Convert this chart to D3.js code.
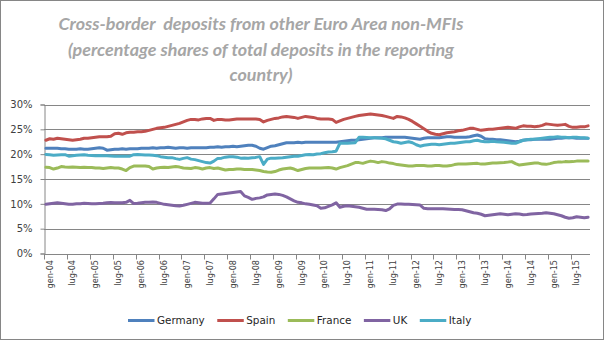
<!DOCTYPE html>
<html>
<head>
<meta charset="utf-8">
<script src="https://cdn.jsdelivr.net/npm/d3@7"></script>
<style>
  html, body { margin: 0; padding: 0; background: #fff; }
  svg { display: block; }
</style>
</head>
<body>
<svg id="chart" width="605" height="341"></svg>
<script>
// ---------------- DATA ----------------
const monthNames = ["gen","feb","mar","apr","mag","giu","lug","ago","set","ott","nov","dic"];
const years = ["04","05","06","07","08","09","10","11","12","13","14","15"];
const lastMonthCount = 11; // series end in nov-15

const tickLabels = ["gen-04","lug-04","gen-05","lug-05","gen-06","lug-06","gen-07","lug-07",
  "gen-08","lug-08","gen-09","lug-09","gen-10","lug-10","gen-11","lug-11",
  "gen-12","lug-12","gen-13","lug-13","gen-14","lug-14","gen-15","lug-15"];

const yTicks = [0, 5, 10, 15, 20, 25, 30];

const titleLines = [
  "Cross-border  deposits from other Euro Area non-MFIs",
  "(percentage shares of total deposits in the reporting",
  "country)"
];

const seriesNames = ["Germany", "Spain", "France", "UK", "Italy"];

const germany = [
  21.2,21.2,21.2,21.2,21.1,21.1,21.0,21.0,21.0,21.1,21.0,21.0,
  21.1,21.2,21.3,21.2,20.8,20.9,21.0,21.0,21.1,21.0,21.1,21.1,
  21.1,21.2,21.2,21.2,21.3,21.2,21.3,21.3,21.4,21.3,21.2,21.3,
  21.3,21.2,21.3,21.3,21.3,21.3,21.3,21.4,21.4,21.5,21.4,21.5,
  21.5,21.6,21.5,21.6,21.7,21.8,21.8,21.6,21.2,21.0,21.3,21.6,
  21.7,21.9,22.1,22.3,22.3,22.3,22.4,22.3,22.4,22.4,22.4,22.4,
  22.4,22.4,22.4,22.4,22.4,22.5,22.6,22.7,22.8,22.8,22.9,23.0,
  23.1,23.2,23.3,23.3,23.3,23.4,23.4,23.4,23.4,23.4,23.4,23.3,
  23.2,23.1,23.0,23.2,23.3,23.3,23.3,23.3,23.4,23.5,23.5,23.4,
  23.4,23.4,23.4,23.5,23.7,23.85,23.6,23.1,23.0,23.0,22.9,22.9,
  22.8,22.7,22.6,22.5,22.6,22.8,22.9,22.9,23.0,23.0,23.0,23.0,
  23.0,23.1,23.2,23.2,23.3,23.3,23.3,23.2,23.2,23.2,23.2
];
const spain = [
  22.8,23.1,23.0,23.2,23.1,23.0,22.9,22.8,22.9,23.0,23.2,23.2,
  23.3,23.4,23.5,23.5,23.5,23.6,24.1,24.2,24.0,24.3,24.4,24.4,
  24.5,24.5,24.6,24.8,25.0,25.2,25.3,25.4,25.6,25.8,26.0,26.2,
  26.5,26.8,27.0,27.0,26.9,27.1,27.2,27.2,26.8,27.0,27.0,26.9,
  26.9,27.0,27.1,27.1,27.1,27.1,27.1,27.1,27.0,26.5,26.8,27.0,
  27.2,27.3,27.5,27.6,27.5,27.4,27.2,27.4,27.6,27.5,27.4,27.2,
  27.1,27.1,27.1,27.0,26.4,26.7,27.0,27.2,27.4,27.6,27.8,27.9,
  28.0,28.1,28.0,27.9,27.8,27.6,27.4,27.2,27.6,27.5,27.3,27.0,
  26.6,26.1,25.6,25.1,24.6,24.2,24.0,23.9,24.1,24.3,24.4,24.5,
  24.7,24.8,25.0,25.2,25.2,25.0,24.8,24.9,25.0,25.0,25.1,25.2,
  25.3,25.4,25.3,25.2,25.5,25.7,25.6,25.6,25.5,25.6,25.8,26.1,
  26.0,25.9,25.8,25.9,26.0,25.6,25.4,25.4,25.5,25.5,25.7
];
const france = [
  17.35,17.3,17.0,17.2,17.5,17.4,17.35,17.4,17.35,17.3,17.35,17.3,
  17.3,17.2,17.2,17.1,17.2,17.3,17.2,17.2,17.0,16.7,17.3,17.6,
  17.6,17.6,17.6,17.5,17.0,17.2,17.3,17.35,17.3,17.4,17.5,17.4,
  17.2,17.15,17.1,17.3,17.2,17.0,17.2,17.3,17.1,17.2,17.0,16.8,
  16.9,16.9,17.0,17.0,16.9,16.9,16.9,16.8,16.7,16.5,16.4,16.35,
  16.5,16.8,17.0,17.1,17.2,17.0,16.7,16.9,17.1,17.2,17.2,17.2,
  17.2,17.25,17.3,17.2,17.0,17.3,17.5,17.7,18.0,18.3,18.3,18.15,
  18.4,18.6,18.5,18.3,18.5,18.4,18.2,18.1,17.9,17.8,17.7,17.6,
  17.6,17.7,17.7,17.7,17.6,17.6,17.7,17.7,17.6,17.6,17.7,17.9,
  18.0,18.0,18.0,18.05,18.1,18.15,18.0,18.0,18.1,18.2,18.2,18.25,
  18.3,18.4,18.5,18.1,17.8,17.9,18.0,18.1,18.2,18.2,18.0,17.95,
  18.1,18.3,18.4,18.4,18.5,18.45,18.5,18.6,18.6,18.6,18.6
];
const uk = [
  9.9,10.0,10.1,10.2,10.1,10.0,9.9,9.9,10.0,10.0,10.1,10.05,
  10.0,10.0,10.05,10.1,10.2,10.25,10.2,10.2,10.2,10.3,10.7,10.05,
  10.1,10.2,10.3,10.3,10.35,10.3,10.1,9.9,9.8,9.7,9.6,9.55,
  9.7,9.9,10.1,10.3,10.2,10.1,10.1,10.15,11.0,11.9,12.0,12.1,
  12.2,12.3,12.4,12.5,11.6,11.3,10.9,11.1,11.2,11.4,11.8,11.9,
  12.0,11.9,11.7,11.4,11.0,10.6,10.3,10.2,10.0,9.9,9.75,9.6,
  9.1,9.2,9.5,9.8,10.2,9.3,9.5,9.6,9.5,9.4,9.3,9.1,
  8.9,8.9,8.9,8.85,8.8,8.65,9.0,9.7,9.95,9.95,9.9,9.9,
  9.85,9.8,9.75,9.1,9.0,9.0,9.0,9.0,9.0,8.95,8.9,8.85,
  8.85,8.8,8.6,8.4,8.2,8.1,7.9,7.6,7.7,7.8,7.9,8.0,
  7.9,7.8,7.9,8.0,7.95,7.8,7.85,7.95,8.0,8.05,8.1,8.2,
  8.1,8.0,7.8,7.6,7.3,7.1,7.2,7.4,7.3,7.2,7.3
];
const italy = [
  19.95,19.9,19.8,19.85,19.9,19.9,19.6,19.7,19.8,19.85,19.9,19.8,
  19.75,19.7,19.75,19.7,19.7,19.65,19.6,19.6,19.6,19.6,19.6,19.9,
  19.95,19.9,19.85,19.85,19.8,19.7,19.5,19.4,19.3,19.3,19.1,18.95,
  19.15,19.3,19.0,18.9,18.7,18.5,18.3,18.2,18.6,19.15,19.2,19.4,
  19.5,19.5,19.4,19.2,19.25,19.2,19.3,19.35,19.5,17.95,19.0,19.2,
  19.2,19.25,19.3,19.4,19.5,19.6,19.6,19.75,19.9,19.95,19.9,20.05,
  20.1,20.3,20.45,20.5,20.6,22.2,22.2,22.2,22.25,22.3,23.4,23.4,
  23.35,23.3,23.3,23.25,23.2,23.1,22.8,22.5,22.4,22.2,22.35,22.5,
  22.3,21.9,21.6,21.8,21.9,22.0,22.0,21.9,22.0,22.1,22.2,22.2,
  22.3,22.4,22.5,22.5,22.7,22.8,22.6,22.5,22.5,22.6,22.5,22.45,
  22.4,22.3,22.2,22.2,22.5,22.8,22.9,23.0,23.0,23.1,23.2,23.3,
  23.4,23.4,23.5,23.4,23.4,23.3,23.4,23.4,23.3,23.3,23.2
];

const seriesValues = [germany, spain, france, uk, italy];
const seriesColors = ["#4F81BD", "#C0504D", "#9BBB59", "#8064A2", "#4BACC6"];

// categories: gen-04 ... nov-15
const categories = [];
years.forEach((yy, yi) => {
  const n = yi === years.length - 1 ? lastMonthCount : 12;
  for (let m = 0; m < n; m++) categories.push(monthNames[m] + "-" + yy);
});

// ---------------- CHART ----------------
const svg = d3.select("#chart");
const gridColor = "#868686";
const textColor = "#404040";

svg.append("rect")
  .attr("x", 0.5).attr("y", 0.5).attr("width", 603).attr("height", 339)
  .attr("fill", "#fff").attr("stroke", gridColor).attr("stroke-width", 1);

const plot = { left: 44, right: 590, top: 104.5, bottom: 253.5 };

const x = d3.scaleBand().domain(categories).range([plot.left, plot.right]).padding(0);
const y = d3.scaleLinear().domain([0, 30]).range([plot.bottom, plot.top]);

// Title
const title = svg.append("g")
  .attr("font-family", "Lato, 'Open Sans', sans-serif")
  .attr("font-style", "italic")
  .attr("font-weight", "bold")
  .attr("fill", "#A6A6A6")
  .attr("text-anchor", "middle");
const titleBaselines = [30, 55.5, 81];
const titleNodes = titleLines.map((t, i) =>
  title.append("text")
    .attr("x", 261).attr("y", titleBaselines[i])
    .style("white-space", "pre")
    .attr("font-size", 19)
    .text(t));
// fit the first line to its width in the reference
const w0 = titleNodes[0].node().getComputedTextLength();
const fs = 19 * 405 / w0;
titleNodes.forEach(n => n.attr("font-size", Math.min(22, Math.max(16, fs))));

// Gridlines
svg.append("g")
  .selectAll("line")
  .data(yTicks.filter(d => d > 0))
  .join("line")
  .attr("x1", plot.left).attr("x2", plot.right)
  .attr("y1", d => Math.round(y(d)) + 0.5)
  .attr("y2", d => Math.round(y(d)) + 0.5)
  .attr("stroke", gridColor).attr("stroke-width", 1);

// Y axis
const yAxis = svg.append("g")
  .attr("transform", `translate(${plot.left + 0.5},0)`)
  .call(d3.axisLeft(y).tickValues(yTicks).tickFormat(d => d + "%").tickSize(4).tickPadding(8));
yAxis.selectAll("path, line").attr("stroke", gridColor);
yAxis.selectAll("text")
  .attr("font-family", "'DejaVu Sans', sans-serif")
  .attr("font-size", 10)
  .attr("fill", textColor);

// X axis: baseline and tick marks at category boundaries
const xAxisG = svg.append("g");
xAxisG.append("line")
  .attr("x1", plot.left).attr("x2", plot.right)
  .attr("y1", Math.round(y(0)) + 0.5).attr("y2", Math.round(y(0)) + 0.5)
  .attr("stroke", gridColor);
xAxisG.selectAll("line.tick")
  .data(tickLabels)
  .join("line")
  .attr("class", "tick")
  .attr("x1", d => Math.round(x(d)) + 0.5)
  .attr("x2", d => Math.round(x(d)) + 0.5)
  .attr("y1", Math.round(y(0)) + 0.5)
  .attr("y2", Math.round(y(0)) + 5.5)
  .attr("stroke", gridColor);
xAxisG.selectAll("text")
  .data(tickLabels)
  .join("text")
  .attr("transform", d => `translate(${x(d) + x.bandwidth() / 2 + 3.5},${260}) rotate(-90)`)
  .attr("text-anchor", "end")
  .attr("dy", "0.35em")
  .attr("font-family", "'DejaVu Sans Condensed', 'DejaVu Sans', sans-serif")
  .attr("font-size", 9)
  .attr("fill", textColor)
  .text(d => d);

// Lines
const line = d3.line()
  .x((d, i) => x(categories[i]) + x.bandwidth() / 2)
  .y(d => y(d));

svg.append("g")
  .selectAll("path")
  .data(seriesValues)
  .join("path")
  .attr("d", d => line(d))
  .attr("fill", "none")
  .attr("stroke", (d, i) => seriesColors[i])
  .attr("stroke-width", 3)
  .attr("stroke-linejoin", "round")
  .attr("stroke-linecap", "round");

// Legend
const legend = svg.append("g")
  .attr("font-family", "'DejaVu Sans', sans-serif")
  .attr("font-size", 10.4)
  .attr("fill", "#262626");
let lx = 128;
const ly = 320.5;
seriesNames.forEach((name, i) => {
  legend.append("line")
    .attr("x1", lx).attr("x2", lx + 26.5)
    .attr("y1", ly).attr("y2", ly)
    .attr("stroke", seriesColors[i]).attr("stroke-width", 3);
  const t = legend.append("text")
    .attr("x", lx + 29).attr("y", ly).attr("dy", "0.35em")
    .text(name);
  lx += 29 + t.node().getComputedTextLength() + 12.5;
});
</script>
</body>
</html>
